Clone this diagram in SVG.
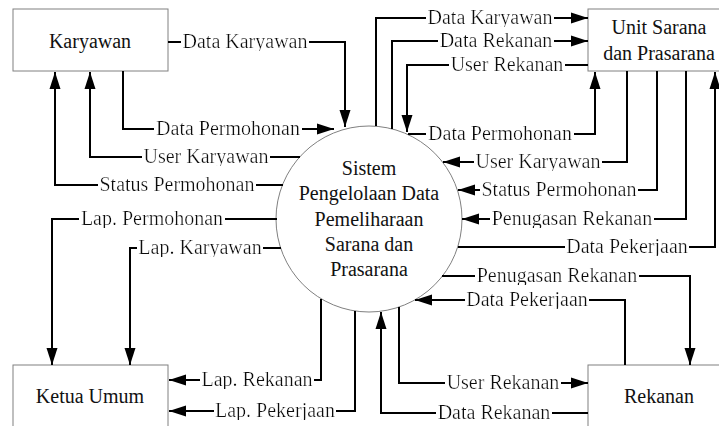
<svg xmlns="http://www.w3.org/2000/svg" width="719" height="426" viewBox="0 0 719 426" font-family="'Liberation Serif', 'Times New Roman', Times, 'DejaVu Serif', serif">
  <style>
    .box { fill: #fff; stroke: #808080; stroke-width: 1; }
    .proc { fill: #fff; stroke: #808080; stroke-width: 1; }
    text { font-family: 'Liberation Serif', 'Times New Roman', Times, 'DejaVu Serif', serif; font-size: 20px; fill: #111; text-anchor: middle; }
    .flow { fill: none; stroke: #000; stroke-width: 2; marker-end: url(#arr); }
    .lbl { filter: url(#knock); }
  </style>
  <defs>
    <marker id="arr" markerUnits="userSpaceOnUse" markerWidth="17" markerHeight="12" refX="17" refY="6" orient="auto">
      <path d="M0,0.5 L17,6 L0,11.5 z" fill="#000"/>
    </marker>
    <!-- white plate behind a flow label so the line breaks around it -->
    <filter id="knock" x="-0.008" y="0.1" width="1.016" height="0.8">
      <feFlood flood-color="#fff"/>
      <feComposite in="SourceGraphic" operator="over"/>
    </filter>
  </defs>
  <rect width="719" height="426" fill="#fff"/>

  <!-- external entities and the process -->
  <g id="karyawan">
    <rect class="box" x="13" y="9" width="155" height="62"/>
    <text x="90" y="48">Karyawan</text>
  </g>
  <g id="unit-sarana">
    <rect class="box" x="588" y="9" width="150" height="62"/>
    <text x="659" y="34">Unit Sarana</text>
    <text x="659" y="60">dan Prasarana</text>
  </g>
  <g id="ketua-umum">
    <rect class="box" x="13" y="365" width="155" height="70"/>
    <text x="90" y="403">Ketua Umum</text>
  </g>
  <g id="rekanan">
    <rect class="box" x="588" y="365" width="150" height="70"/>
    <text x="659" y="403">Rekanan</text>
  </g>
  <g id="sistem">
    <circle class="proc" cx="369" cy="219" r="93"/>
    <text x="369" y="175">Sistem</text>
    <text x="369" y="200">Pengelolaan Data</text>
    <text x="369" y="226">Pemeliharaan</text>
    <text x="369" y="251">Sarana dan</text>
    <text x="369" y="276">Prasarana</text>
  </g>

  <!-- data flows -->
  <g id="connectors">
    <path class="flow" d="M168,42 H345 V127"/>
    <path class="flow" d="M123,71 V129 H334"/>
    <path class="flow" d="M300,157 H90 V72"/>
    <path class="flow" d="M283,185 H55 V72"/>
    <path class="flow" d="M277,219 H52 V365"/>
    <path class="flow" d="M281,248 H130 V365"/>
    <path class="flow" d="M321,299 V380 H169"/>
    <path class="flow" d="M355,311 V411 H169"/>
    <path class="flow" d="M376,126 V18 H588"/>
    <path class="flow" d="M392,129 V41 H588"/>
    <path class="flow" d="M588,65 H407 V132"/>
    <path class="flow" d="M408,134 H595 V72"/>
    <path class="flow" d="M627,71 V162 H443"/>
    <path class="flow" d="M657,71 V190 H458"/>
    <path class="flow" d="M686,71 V219 H462"/>
    <path class="flow" d="M458,247 H715 V72"/>
    <path class="flow" d="M442,276 H690 V365"/>
    <path class="flow" d="M625,365 V300 H415"/>
    <path class="flow" d="M399,307 V383 H588"/>
    <path class="flow" d="M588,413 H381 V312"/>

    <text class="lbl" x="245" y="48">Data Karyawan</text>
    <text class="lbl" x="228" y="135">Data Permohonan</text>
    <text class="lbl" x="206" y="163">User Karyawan</text>
    <text class="lbl" x="177" y="191">Status Permohonan</text>
    <text class="lbl" x="152" y="225">Lap. Permohonan</text>
    <text class="lbl" x="200" y="254">Lap. Karyawan</text>
    <text class="lbl" x="257" y="386">Lap. Rekanan</text>
    <text class="lbl" x="275" y="417">Lap. Pekerjaan</text>
    <text class="lbl" x="490" y="24">Data Karyawan</text>
    <text class="lbl" x="496" y="47">Data Rekanan</text>
    <text class="lbl" x="507" y="71">User Rekanan</text>
    <text class="lbl" x="500" y="140">Data Permohonan</text>
    <text class="lbl" x="538" y="168">User Karyawan</text>
    <text class="lbl" x="559" y="196">Status Permohonan</text>
    <text class="lbl" x="572" y="225">Penugasan Rekanan</text>
    <text class="lbl" x="627" y="253">Data Pekerjaan</text>
    <text class="lbl" x="557" y="282">Penugasan Rekanan</text>
    <text class="lbl" x="527" y="306">Data Pekerjaan</text>
    <text class="lbl" x="503" y="389">User Rekanan</text>
    <text class="lbl" x="494" y="419">Data Rekanan</text>
  </g>
</svg>
